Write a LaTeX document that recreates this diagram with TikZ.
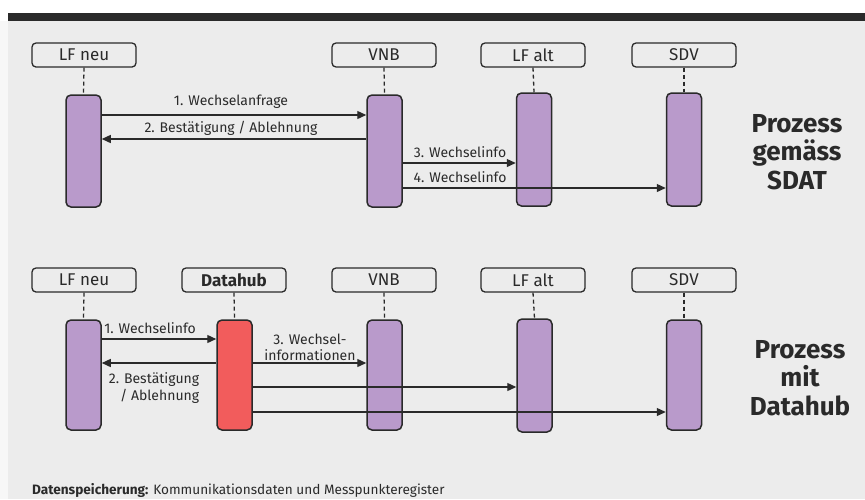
\documentclass[tikz,border=0pt]{standalone}
\usepackage{fontspec}
\setmainfont{Fira Sans}
\usetikzlibrary{arrows.meta}
\definecolor{bg}{HTML}{ECECEC}
\definecolor{strip}{HTML}{F7F7F7}
\definecolor{ink}{HTML}{2A2A2A}
\definecolor{purp}{HTML}{B99ACB}
\definecolor{hubred}{HTML}{F25C5C}
\begin{document}
\begin{tikzpicture}[x=1pt,y=-1pt,
  head/.style={draw=ink, line width=1.3pt, rounded corners=4pt, fill=bg, minimum width=104pt, minimum height=24pt, inner sep=0pt, font=\fontsize{17}{17}\selectfont, text=ink},
  bar/.style={draw=ink, line width=1.5pt, rounded corners=5pt, fill=purp, minimum width=35pt, minimum height=112pt, inner sep=0pt},
  life/.style={draw=ink, dash pattern=on 4pt off 3pt, line width=1.3pt},
  msg/.style={draw=ink, -{Triangle[length=9pt,width=8pt]}, line width=1.3pt},
  lbl/.style={font=\fontsize{14}{17}\selectfont, text=ink, inner sep=0pt},
  big/.style={font=\fontsize{26}{28.5}\selectfont\bfseries, text=ink, align=center, inner sep=0pt}]
\useasboundingbox (0,0) rectangle (865,499);
\fill[white] (0,0) rectangle (865,499);
\fill[strip] (0,21) rectangle (8,499);
\fill[bg] (8,21) rectangle (865,499);
\fill[ink] (8,13) rectangle (865,21);

% ---------- top: Prozess gemaess SDAT ----------
\node[head] (h1) at (84,55) {LF neu};
\node[head] (h2) at (384,55) {VNB};
\node[head] (h3) at (533,55) {LF alt};
\node[head] (h4) at (684,55) {SDV};
\node[bar] (b1) at (83.5,151) {};
\node[bar] (b2) at (384.5,151) {};
\node[bar, minimum height=113pt] (b3) at (534,149.5) {};
\node[bar, minimum height=113pt] (b4) at (684,149.5) {};
\foreach \i in {1,2,3,4} \draw[life] (h\i.south) -- (b\i.north);

\coordinate (t1) at (0,115);
\coordinate (t2) at (0,139);
\coordinate (t3) at (0,163);
\coordinate (t4) at (0,188);
\draw[msg] (b1.east |- t1) -- (b2.west |- t1);
\draw[msg] (b2.west |- t2) -- (b1.east |- t2);
\draw[msg] (b2.east |- t3) -- (b3.west |- t3);
\draw[msg] (b2.east |- t4) -- (b4.west |- t4);
\node[lbl] (l1) at (231,102) {1. Wechselanfrage};
\node[lbl] (l2) at (231,128) {2. Bestätigung / Ablehnung};
\node[lbl] (l3) at (460,152) {3. Wechselinfo};
\node[lbl] (l4) at (460,177) {4. Wechselinfo};
\node[big] (p1) at (797,152) {Prozess\\gemäss\\SDAT};

% ---------- bottom: Prozess mit Datahub ----------
\node[head] (g1) at (84,280) {LF neu};
\node[head, font=\fontsize{17}{17}\selectfont\bfseries] (g2) at (234,280) {Datahub};
\node[head] (g3) at (384,280) {VNB};
\node[head] (g4) at (533,280) {LF alt};
\node[head] (g5) at (684,280) {SDV};
\node[bar, minimum height=110pt] (c1) at (83.5,375) {};
\node[bar, minimum height=110pt, fill=hubred] (c2) at (234.5,375) {};
\node[bar, minimum height=110pt] (c3) at (384.5,375) {};
\node[bar, minimum height=113pt] (c4) at (534.5,375.5) {};
\node[bar, minimum height=110pt] (c5) at (684,375) {};
\foreach \i in {1,2,3,4,5} \draw[life] (g\i.south) -- (c\i.north);

\coordinate (u1) at (0,339);
\coordinate (u2) at (0,363);
\coordinate (u4) at (0,387);
\coordinate (u5) at (0,412);
\draw[msg] (c1.east |- u1) -- (c2.west |- u1);
\draw[msg] (c2.west |- u2) -- (c1.east |- u2);
\draw[msg] (c2.east |- u2) -- (c3.west |- u2);
\draw[msg] (c2.east |- u4) -- (c4.west |- u4);
\draw[msg] (c2.east |- u5) -- (c5.west |- u5);
\node[lbl] (m1) at (150,328) {1. Wechselinfo};
\node[lbl, align=right] (m2) at (154,388) {2. Bestätigung\\/ Ablehnung};
\node[lbl, align=center, font=\fontsize{14}{16}\selectfont] (m3) at (310,347) {3. Wechsel-\\informationen};
\node[big] (p2) at (800,378) {Prozess\\mit\\Datahub};

\node[lbl, anchor=west, font=\fontsize{13.6}{14}\selectfont] (foot) at (32,490) {\textbf{Datenspeicherung:} Kommunikationsdaten und Messpunkteregister};
\end{tikzpicture}
\end{document}
